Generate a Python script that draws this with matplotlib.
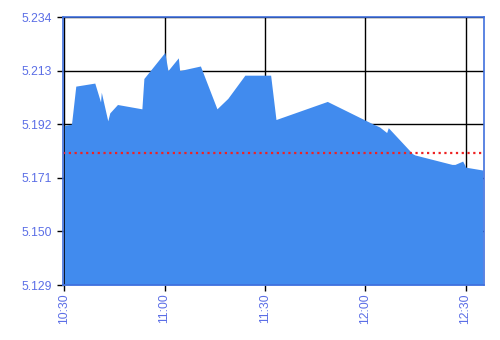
import matplotlib
matplotlib.use("Agg")
import matplotlib.pyplot as plt

times = ["10:30:00", "10:32:09", "10:33:26", "10:39:07", "10:40:50", "10:41:04",
         "10:43:00", "10:43:36", "10:45:54", "10:53:12", "10:53:48", "11:00:03",
         "11:01:00", "11:04:06", "11:04:30", "11:10:42", "11:15:39", "11:18:54",
         "11:24:00", "11:31:42", "11:33:18", "11:48:39", "12:02:24", "12:04:16",
         "12:06:24", "12:06:53", "12:14:08", "12:14:52", "12:25:56", "12:26:50",
         "12:29:08", "12:30:05", "12:35:07"]
prices = [5.1916, 5.1921, 5.2070, 5.2082, 5.2008, 5.2046,
          5.1934, 5.1965, 5.1998, 5.1981, 5.2100, 5.2202,
          5.2131, 5.2181, 5.2131, 5.2149, 5.1981, 5.2022,
          5.2113, 5.2113, 5.1939, 5.2010, 5.1921, 5.1910,
          5.1888, 5.1907, 5.1805, 5.1800, 5.1763, 5.1763,
          5.1776, 5.1752, 5.1741]
prev_close = 5.1808
y_ticks = [5.129, 5.150, 5.171, 5.192, 5.213, 5.234]
x_tick_labels = ["10:30", "11:00", "11:30", "12:00", "12:30"]


def to_min(s):
    p = [int(v) for v in s.split(":")]
    return (p[0] - 10) * 60 + p[1] - 30 + (p[2] if len(p) > 2 else 0) / 60.0


t = [to_min(s) for s in times]
xt = [to_min(s) for s in x_tick_labels]

plt.rcParams['font.family'] = ['Liberation Sans', 'DejaVu Sans']
fig = plt.figure(figsize=(5, 3.4), dpi=100)
ax = fig.add_axes([62.7 / 500, 55 / 340, (484.3 - 62.7) / 500, (285 - 17.3) / 340])

ax.set_xlim(-0.48, 125.6)
ax.set_ylim(y_ticks[0], y_ticks[-1])

ax.grid(True, color="black", linewidth=1.0, zorder=0)
ax.set_axisbelow(True)
ax.fill_between(t, prices, y_ticks[0], color="#418bee", linewidth=0, zorder=2)
ax.axhline(prev_close, color="#ee2222", linestyle=(0, (1, 1.6)), linewidth=1.6, zorder=3)

ax.set_yticks(y_ticks)
ax.set_yticklabels([f"{v:.3f}" for v in y_ticks])
ax.set_xticks(xt)
ax.set_xticklabels(x_tick_labels, rotation=90)

lab_col = "#5b6ee6"
ax.tick_params(axis="both", colors="black", labelcolor=lab_col, labelsize=8.8,
               length=4.5, width=1, direction="out")
ax.tick_params(axis="y", pad=3)
ax.tick_params(axis="x", pad=1.5)
for sp in ax.spines.values():
    sp.set_color("#3f6fdd")
    sp.set_linewidth(1.2)
    sp.set_zorder(4)

fig.savefig("out.png", dpi=100)
